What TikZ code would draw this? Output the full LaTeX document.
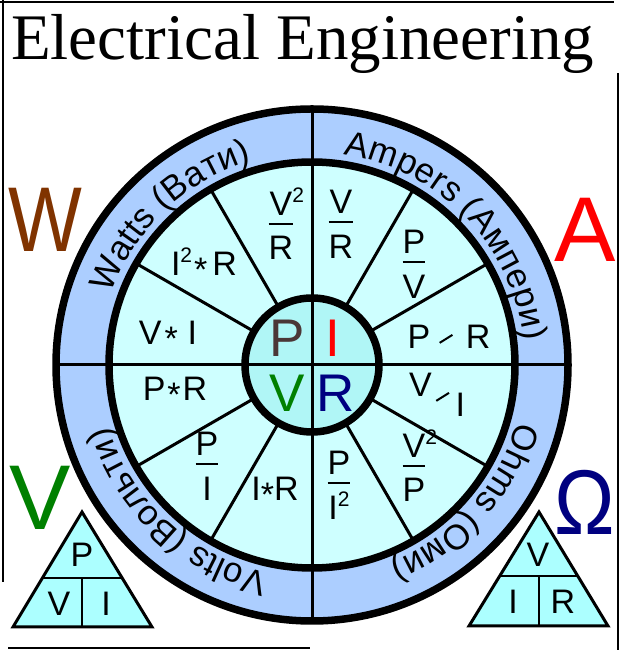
\documentclass[tikz,border=0pt]{standalone}
\usepackage{fontspec}
\setmainfont{Liberation Sans}
\newfontfamily\serifhead{Liberation Serif}
\usetikzlibrary{decorations.text}
\definecolor{ringblue}{RGB}{172,206,255}
\definecolor{sectcyan}{RGB}{206,255,255}
\definecolor{hubcyan}{RGB}{176,246,246}
\definecolor{tricyan}{RGB}{172,255,255}
\definecolor{wbrown}{RGB}{128,51,0}
\definecolor{pbrown}{RGB}{75,55,55}
\definecolor{vgreen}{RGB}{0,128,0}
\definecolor{rnavy}{RGB}{0,0,128}
\newcommand{\cellfont}{\fontsize{34}{40}\selectfont}
\newcommand{\ringfont}{\fontsize{35}{40}\selectfont}
\newcommand{\hubfont}{\fontsize{53}{60}\selectfont}
\newcommand{\bigfont}{\fontsize{92}{100}\selectfont}
\newcommand{\sqr}{\raisebox{13pt}{\fontsize{21}{21}\selectfont 2}}
\newcommand{\tms}{\raisebox{-6pt}{*}}
\newcommand{\slant}{\rotatebox{32}{\rule{15pt}{2pt}}}
\newcommand{\ratio}[2]{{\renewcommand{\arraystretch}{0}\setlength{\arrayrulewidth}{2.2pt}%
  \begin{tabular}{@{}c@{}}\rule[-7pt]{0pt}{31pt}#1\\\hline\rule{0pt}{35pt}#2\end{tabular}}}
\tikzset{
  frameline/.style={line width=2pt},
  rim/.style={line width=7.5pt},
  spoke/.style={line width=3pt},
  cell/.style={font=\cellfont, inner sep=0pt},
  hub/.style={font=\hubfont, inner sep=0pt, anchor=base},
  big/.style={font=\bigfont, inner sep=0pt, anchor=base west},
  tri/.style={draw, line width=3pt, fill=tricyan},
  triline/.style={line width=2pt},
  trilbl/.style={font=\cellfont, inner sep=0pt},
  ringtext/.style={decorate, decoration={text along path, text align=center,
                   text={|\ringfont|#1}}}
}

\begin{document}
\begin{tikzpicture}[x=1pt,y=1pt]
\useasboundingbox (0,0) rectangle (620,650);
% frame pieces
\draw[frameline] (0,648) -- (614,648);
\draw[frameline] (3,650) -- (3,68);
\draw[frameline] (618,577) -- (618,0);
\draw[frameline] (8,2) -- (310,2);

\node[anchor=base west, inner sep=0pt, font=\serifhead\fontsize{65}{70}\selectfont] (title) at (11,590) {Electrical Engineering};

% unit letters
\node[big, text=wbrown, xscale=0.85] (bigW) at (8,398) {W};
\node[big, text=red] (bigA) at (554,388) {A};
\node[big, text=vgreen] (bigV) at (9,120) {V};
\node[big, text=rnavy, xscale=0.88] (bigO) at (554,115) {Ω};

% wheel
\begin{scope}[shift={(312,285)}]
  \fill[ringblue] (0,0) circle (256);
  \fill[sectcyan] (0,0) circle (203);
  \fill[hubcyan] (0,0) circle (67);
  \foreach \a in {30,60,120,150,210,240,300,330}
    \draw[spoke] (\a:67) -- (\a:203);
  \draw[spoke] (0,-256) -- (0,256);
  \draw[spoke] (-256,0) -- (256,0);
  \path[ringtext={Watts (Вати)}] (178:213) arc[start angle=178, end angle=89, radius=213];
  \path[ringtext={Ampers (Ампери)}] (88:213) arc[start angle=88, end angle=0, radius=213];
  \path[ringtext={Ohms (Оми)}] (2:213) arc[start angle=2, end angle=-86, radius=213];
  \path[ringtext={Volts (Вольти)}] (-88:213) arc[start angle=-88, end angle=-177, radius=213];
  \draw[rim] (0,0) circle (256) (0,0) circle (203) (0,0) circle (67);
\end{scope}

% hub letters
\node[hub, text=pbrown] (hubP) at (287,293) {P};
\node[hub, text=red] (hubI) at (333,293) {I};
\node[hub, text=vgreen] (hubV) at (287,238) {V};
\node[hub, text=rnavy] (hubR) at (336,238) {R};

% sectors
\node[cell] (v2r) at (281,426) {\ratio{V\rlap{\sqr}}{R}};
\node[cell] (vr) at (341,426) {\ratio{V}{R}};
\node[cell] (pv) at (414,386) {\ratio{P}{V}};
\node[cell] (pr) at (449,313) {P\hspace{9pt}\raisebox{5pt}{\slant}\hspace{13pt}R};
\node[cell] (vi) at (437,255) {V\hspace{4pt}\raisebox{-5pt}{\slant}\hspace{6pt}\raisebox{-20pt}{I}};
\node[cell] (v2p) at (414,184) {\ratio{V\rlap{\sqr}}{P}};
\node[cell] (pi2) at (339,165) {\ratio{P}{I\sqr}};
\node[cell] (ir) at (275,158) {I\tms R};
\node[cell] (pi) at (207,184) {\ratio{P}{I}};
\node[cell] (pxr) at (175,258) {P\hspace{2pt}\tms\hspace{2pt}R};
\node[cell] (vxi) at (168,314) {V\hspace{3pt}\tms\hspace{10pt}I};
\node[cell] (i2r) at (204,385) {I\sqr\hspace{2pt}\tms\hspace{5pt}R};

% triangle P = V I
\coordinate (pvi-top) at (82,138);
\coordinate (pvi-l) at (13,23);
\coordinate (pvi-r) at (152,23);
\draw[tri] (pvi-top) -- (pvi-r) -- (pvi-l) -- cycle;
\draw[triline] (42,72) -- (122,72) (82,72) -- (82,23);
\node[trilbl] (triP) at (82,95) {P};
\node[trilbl] (triV) at (59,46) {V};
\node[trilbl] (triI) at (106,46) {I};

% triangle V = I R
\coordinate (vir-top) at (539,138);
\coordinate (vir-l) at (469,24);
\coordinate (vir-r) at (608,24);
\draw[tri] (vir-top) -- (vir-r) -- (vir-l) -- cycle;
\draw[triline] (500,74) -- (578,74) (539,74) -- (539,24);
\node[trilbl] (triV2) at (538,95) {V};
\node[trilbl] (triI2) at (513,48) {I};
\node[trilbl] (triR2) at (563,48) {R};
\end{tikzpicture}
\end{document}
